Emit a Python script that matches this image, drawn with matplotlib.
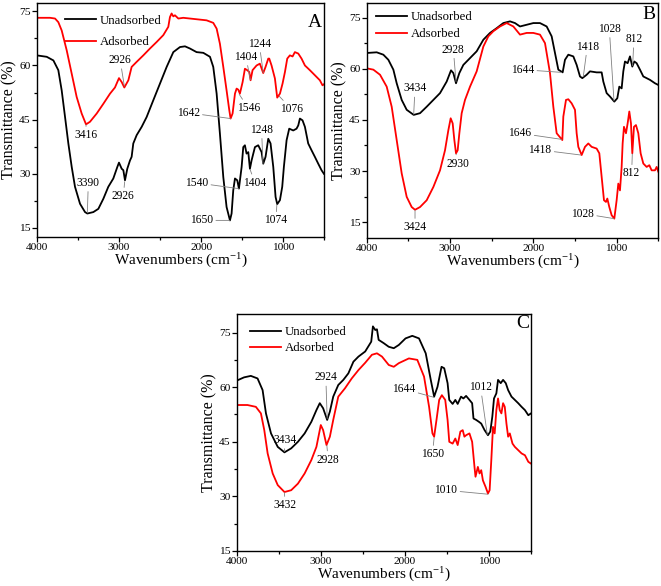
import matplotlib
matplotlib.use("Agg")
import matplotlib.pyplot as plt
from matplotlib.ticker import MultipleLocator

plt.rcParams['font.family'] = ['Liberation Serif', 'DejaVu Serif']
plt.rcParams['mathtext.fontset'] = 'custom'
plt.rcParams['mathtext.rm'] = 'Liberation Serif'
plt.rcParams['mathtext.default'] = 'regular'

# ---------------- Panel A ----------------
A_wn_ads = [4000, 3838, 3777, 3737, 3696, 3635, 3574, 3514, 3453, 3400, 3352, 3270, 3189, 3108, 3048,
            2999, 2966, 2934, 2885, 2845, 2784, 2703, 2622, 2541, 2460, 2399, 2379, 2359, 2338, 2318,
            2277, 2217, 2136, 2014, 1933, 1852, 1811, 1771, 1730, 1690, 1657, 1641, 1617, 1588, 1568,
            1548, 1528, 1495, 1467, 1439, 1414, 1398, 1374, 1325, 1285, 1244, 1216, 1183, 1171, 1143,
            1102, 1074, 1041, 1009, 980, 952, 920, 887, 859, 818, 778, 737, 677, 616, 555, 523, 494]
A_T_ads = [73.2, 73.2, 73.0, 72.0, 69.7, 64.2, 57.7, 51.3, 46.7, 43.7, 44.4, 46.7, 49.4, 52.2, 53.9,
           56.5, 55.4, 53.9, 55.9, 59.6, 61.0, 62.8, 64.7, 66.5, 68.4, 70.7, 73.4, 74.4, 73.6, 73.9,
           73.0, 73.2, 73.0, 72.7, 72.5, 71.8, 70.2, 66.0, 59.6, 53.1, 47.6, 45.3, 46.7, 52.2, 53.6,
           53.3, 52.2, 55.4, 59.1, 58.7, 58.2, 55.9, 58.7, 60.0, 60.5, 57.9, 59.6, 61.9, 61.9, 60.0,
           56.4, 51.1, 52.2, 55.0, 58.2, 61.9, 62.8, 62.5, 63.7, 63.3, 61.9, 60.0, 58.7, 57.3, 55.9, 54.5, 55.0]

A_wn_unads = [4000, 3878, 3797, 3737, 3696, 3655, 3615, 3574, 3534, 3473, 3412, 3384, 3311, 3250, 3189,
              3129, 3068, 3019, 2999, 2966, 2946, 2926, 2898, 2865, 2845, 2825, 2784, 2723, 2663, 2581,
              2500, 2419, 2338, 2257, 2196, 2136, 2055, 1973, 1892, 1852, 1811, 1771, 1730, 1690, 1649,
              1629, 1609, 1588, 1560, 1540, 1507, 1487, 1467, 1447, 1426, 1406, 1386, 1345, 1305, 1264,
              1244, 1216, 1183, 1155, 1122, 1094, 1074, 1041, 1013, 993, 960, 928, 879, 839, 818, 798,
              766, 737, 697, 656, 616, 575, 535, 506]
A_T_unads = [62.8, 62.4, 61.4, 58.7, 53.1, 45.7, 38.4, 31.9, 26.4, 21.7, 19.4, 19.0, 19.4, 20.3, 23.1,
             26.4, 28.7, 31.9, 33.1, 31.4, 31.0, 28.2, 31.4, 33.7, 34.7, 38.4, 40.7, 43.0, 45.7, 50.4,
             55.0, 59.6, 63.7, 65.1, 65.3, 64.7, 63.7, 63.5, 62.4, 59.6, 52.2, 41.1, 29.1, 20.8, 17.1,
             19.0, 25.4, 28.7, 28.2, 25.9, 31.9, 37.4, 37.9, 35.6, 36.0, 31.4, 33.7, 37.4, 37.9, 36.0,
             32.8, 34.7, 39.7, 38.4, 31.9, 23.6, 21.6, 22.7, 26.4, 31.9, 39.3, 42.5, 42.0, 42.5, 43.4, 45.3,
             44.8, 43.0, 38.4, 36.5, 34.7, 32.8, 31.0, 30.0]

# label, text (wn, T), target (wn, T)
A_labels = [("2926", (2985, 61.5), (2934, 54.3)),
            ("3416", (3400, 40.7), (3400, 43.6)),
            ("1642", (2156, 46.9), (1641, 45.3)),
            ("1546", (1426, 48.2), (1536, 52.0)),
            ("1076", (900, 47.9), (1050, 51.5)),
            ("1404", (1455, 62.4), (1400, 56.0)),
            ("1244", (1293, 66.0), (1244, 58.0)),
            ("3390", (3372, 27.5), (3384, 19.2)),
            ("2926", (2946, 23.8), (2930, 27.8)),
            ("1540", (2054, 27.5), (1545, 25.9)),
            ("1404", (1345, 27.5), (1404, 31.2)),
            ("1248", (1264, 42.2), (1248, 32.8)),
            ("1650", (1994, 17.1), (1652, 17.1)),
            ("1074", (1090, 17.1), (1078, 21.6))]

# ---------------- Panel B ----------------
B_wn_unads = [4000, 3880, 3800, 3740, 3680, 3640, 3580, 3520, 3436, 3360, 3280, 3200, 3120, 3040, 2988,
              2960, 2928, 2888, 2840, 2760, 2680, 2600, 2520, 2440, 2360, 2280, 2220, 2160, 2080, 2000,
              1920, 1840, 1780, 1740, 1700, 1648, 1620, 1580, 1520, 1480, 1440, 1412, 1360, 1320, 1240,
              1180, 1160, 1120, 1080, 1028, 992, 968, 940, 920, 900, 868, 840, 812, 788, 760, 720,
              680, 640, 600, 540, 500]
B_T_unads = [64.7, 64.9, 64.2, 62.7, 59.8, 55.8, 50.9, 48.0, 46.5, 47.0, 48.9, 50.9, 52.9, 56.3, 59.6,
             58.8, 55.8, 58.8, 61.2, 63.2, 65.2, 68.6, 70.6, 72.0, 73.5, 74.0, 73.5, 72.5, 73.0, 73.5,
             73.5, 72.5, 69.6, 64.7, 59.8, 59.0, 62.7, 64.2, 63.7, 61.2, 57.8, 57.3, 58.3, 59.3, 59.0,
             59.0, 56.3, 52.9, 51.9, 50.4, 51.4, 54.8, 54.3, 59.3, 62.2, 61.7, 63.7, 60.7, 62.2, 61.7, 59.8,
             57.8, 57.3, 56.8, 55.8, 55.3]

B_wn_ads = [4000, 3920, 3840, 3760, 3700, 3640, 3580, 3520, 3460, 3420, 3360, 3280, 3200, 3120, 3060,
            3020, 2992, 2968, 2948, 2928, 2908, 2888, 2860, 2820, 2760, 2680, 2600, 2540, 2480, 2400,
            2320, 2240, 2160, 2080, 2000, 1920, 1860, 1800, 1760, 1720, 1652, 1640, 1608, 1580, 1540,
            1500, 1480, 1460, 1420, 1380, 1340, 1300, 1240, 1208, 1180, 1152, 1128, 1112, 1088, 1060,
            1028, 1000, 980, 960, 940, 928, 912, 888, 868, 848, 828, 812, 792, 768, 740, 712, 680,
            640, 608, 580, 540, 520, 500]
B_T_ads = [60.2, 59.8, 58.3, 54.8, 48.9, 39.1, 29.3, 22.4, 19.4, 18.6, 19.4, 21.4, 25.3, 30.2, 36.1,
           42.0, 45.5, 44.0, 39.1, 35.2, 36.1, 41.1, 47.0, 50.9, 54.8, 59.3, 66.6, 69.6, 71.1, 72.5,
           73.5, 72.5, 70.1, 70.6, 70.6, 70.1, 67.6, 58.8, 48.9, 41.1, 39.1, 46.0, 50.9, 51.1, 49.9,
           48.0, 41.1, 37.1, 34.7, 37.1, 38.1, 37.1, 36.6, 35.2, 28.3, 21.4, 20.9, 21.9, 19.4, 17.0,
           16.0, 21.4, 26.3, 24.3, 31.2, 38.1, 43.0, 41.1, 44.0, 47.5, 44.0, 35.2, 43.0, 43.5, 41.1, 35.2, 32.2,
           31.2, 31.7, 30.2, 30.2, 31.2, 29.8]

B_labels = [("2928", (2960, 65.7), (2928, 56.3)),
            ("3434", (3420, 54.3), (3436, 46.7)),
            ("1644", (2128, 59.8), (1660, 59.0)),
            ("1418", (1352, 66.6), (1400, 57.8)),
            ("1028", (1088, 71.8), (1032, 50.6)),
            ("812", (792, 68.8), (808, 61.0)),
            ("3424", (3420, 13.5), (3420, 18.4)),
            ("2930", (2900, 32.2), (2928, 35.0)),
            ("1646", (2160, 41.1), (1660, 39.3)),
            ("1418", (1920, 36.2), (1430, 34.7)),
            ("812", (820, 29.3), (812, 35.0)),
            ("1028", (1408, 17.5), (1032, 16.0))]

# ---------------- Panel C ----------------
C_wn_unads = [4000, 3912, 3832, 3752, 3692, 3652, 3592, 3512, 3432, 3352, 3272, 3192, 3112, 3052, 3012,
              2972, 2924, 2892, 2852, 2792, 2732, 2672, 2612, 2552, 2472, 2400, 2380, 2352, 2332, 2312,
              2252, 2192, 2132, 2072, 1992, 1912, 1832, 1752, 1692, 1652, 1612, 1564, 1532, 1492, 1472,
              1432, 1400, 1372, 1332, 1304, 1272, 1232, 1200, 1184, 1152, 1120, 1092, 1052, 1012, 984,
              960, 940, 912, 892, 860, 832, 800, 772, 732, 692, 652, 612, 572, 532, 500]
C_T_unads = [61.8, 62.7, 63.1, 62.4, 59.2, 52.8, 47.3, 43.6, 42.1, 43.2, 45.0, 47.3, 50.5, 53.7, 55.6,
             54.2, 51.0, 53.3, 57.4, 60.6, 62.0, 63.8, 67.0, 68.4, 69.8, 72.5, 76.7, 75.7, 75.9, 73.0,
             72.1, 71.1, 70.7, 71.6, 73.4, 74.1, 73.4, 69.3, 62.0, 57.4, 60.1, 65.6, 65.2, 61.1, 56.5,
             55.4, 56.5, 55.4, 57.4, 56.9, 57.6, 56.5, 55.6, 51.4, 51.0, 50.5, 50.0, 48.2, 46.8, 47.8,
             51.9, 56.9, 58.3, 62.0, 61.1, 62.0, 61.1, 59.2, 57.4, 56.5, 55.6, 54.6, 53.7, 52.3, 52.8]

C_wn_ads = [4000, 3872, 3772, 3712, 3672, 3632, 3572, 3512, 3432, 3352, 3272, 3192, 3112, 3052, 3000,
            2972, 2932, 2892, 2852, 2792, 2712, 2632, 2552, 2472, 2392, 2332, 2272, 2192, 2132, 2072,
            1952, 1852, 1772, 1712, 1672, 1652, 1624, 1592, 1560, 1520, 1492, 1472, 1432, 1400, 1372,
            1340, 1312, 1292, 1272, 1232, 1200, 1172, 1160, 1132, 1112, 1092, 1072, 1040, 1012, 992,
            972, 952, 932, 912, 892, 872, 852, 832, 812, 792, 772, 752, 720, 692, 652, 612, 572, 532, 500]
C_T_ads = [55.1, 55.1, 54.6, 52.8, 48.2, 41.8, 36.3, 33.1, 31.2, 31.7, 33.5, 36.3, 40.0, 43.6, 49.6,
           48.2, 44.1, 46.4, 51.0, 57.4, 59.7, 62.4, 64.7, 66.7, 68.9, 69.3, 68.4, 66.1, 65.6, 66.6,
           67.9, 67.5, 62.9, 54.6, 47.3, 46.4, 51.0, 56.5, 57.8, 56.5, 51.0, 45.0, 44.5, 45.9, 44.1,
           47.8, 48.2, 46.4, 46.8, 47.3, 45.0, 38.1, 35.4, 38.1, 36.3, 37.2, 34.4, 32.6, 30.8, 31.7,
           40.0, 49.1, 47.3, 53.7, 56.9, 53.7, 52.8, 55.6, 54.6, 50.0, 46.4, 47.3, 44.5, 43.6, 42.7, 41.8, 41.3, 39.5, 39.0]

C_labels = [("2924", (2940, 62.7), (2924, 51.4)),
            ("3434", (3424, 45.5), (3432, 42.3)),
            ("3432", (3424, 27.6), (3432, 31.0)),
            ("2928", (2912, 40.1), (2928, 44.0)),
            ("1644", (2012, 59.5), (1652, 57.2)),
            ("1650", (1672, 41.6), (1652, 46.2)),
            ("1012", (1100, 60.0), (1020, 47.0)),
            ("1010", (1512, 31.7), (1012, 30.6))]

panels = [
    dict(rect=[36.7, 3, 324.4, 237], ylim=(12.5, 77.3), letter="A", letter_pos=(615, 71.8),
         unads=(A_wn_unads, A_T_unads), ads=(A_wn_ads, A_T_ads), labels=A_labels,
         leg=(0.098, 0.95), legspace=0.75),
    dict(rect=[366.7, 3, 658.3, 238], ylim=(10.3, 79.4), letter="B", letter_pos=(608, 76.0),
         unads=(B_wn_unads, B_T_unads), ads=(B_wn_ads, B_T_ads), labels=B_labels,
         leg=(0.032, 0.965), legspace=0.38),
    dict(rect=[236.7, 314, 531.0, 551], ylim=(15, 80.1), letter="C", letter_pos=(600, 77.4),
         unads=(C_wn_unads, C_T_unads), ads=(C_wn_ads, C_T_ads), labels=C_labels,
         leg=(0.045, 0.948), legspace=0.3),
]

W, H = 661, 586
fig = plt.figure(figsize=(W / 100, H / 100), dpi=100)

for p in panels:
    x0, y0, x1, y1 = p["rect"]
    ax = fig.add_axes([x0 / W, 1 - y1 / H, (x1 - x0) / W, (y1 - y0) / H])
    ax.plot(p["unads"][0], p["unads"][1], color="black", lw=1.3, label="Unadsorbed")
    ax.plot(p["ads"][0], p["ads"][1], color="#ff0000", lw=1.3, label="Adsorbed")
    ax.set_xlim(4000, 500)
    ax.set_ylim(*p["ylim"])
    ax.xaxis.set_major_locator(MultipleLocator(1000))
    ax.xaxis.set_minor_locator(MultipleLocator(500))
    ax.yaxis.set_major_locator(MultipleLocator(15))
    ax.yaxis.set_minor_locator(MultipleLocator(7.5))
    ax.tick_params(which="both", direction="out", labelsize=8.2, width=0.9)
    ax.tick_params(which="major", length=3.5, pad=0.8)
    ax.tick_params(which="minor", length=2)
    for s in ax.spines.values():
        s.set_linewidth(1.0)
    ax.set_xlabel(r"Wavenumbers (cm$^{-1}$)", fontsize=11, labelpad=0)
    ax.set_ylabel("Transmittance (%)", fontsize=11.5, labelpad=1)
    ax.text(p["letter_pos"][0], p["letter_pos"][1], p["letter"], fontsize=14,
            ha="center", va="center")
    for lab, txy, pxy in p["labels"]:
        ax.annotate(lab, xy=pxy, xytext=txy, fontsize=8.3, ha="center", va="center",
                    arrowprops=dict(arrowstyle="-", color="#808080", lw=0.6,
                                    shrinkA=0, shrinkB=0))
    ax.legend(loc="upper left", bbox_to_anchor=p["leg"], frameon=False, fontsize=9.2,
              handlelength=2.4, handletextpad=0.3, borderpad=0, borderaxespad=0,
              labelspacing=p["legspace"])

fig.savefig("out.png", dpi=100)
